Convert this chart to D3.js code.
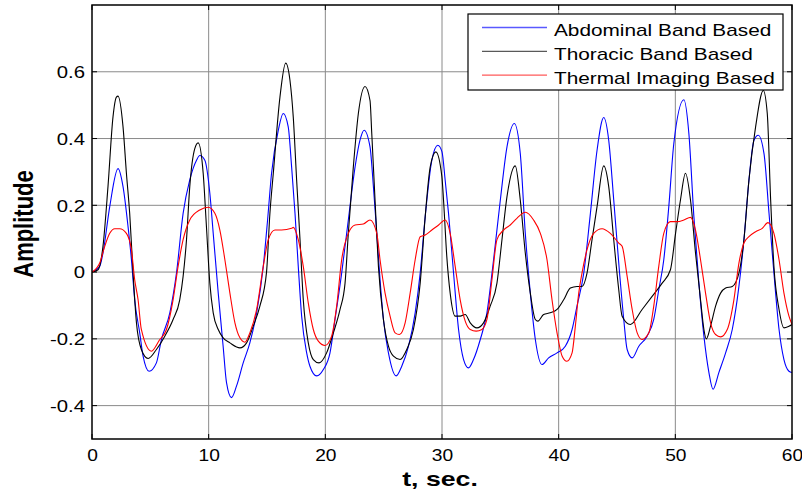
<!DOCTYPE html>
<html>
<head>
<meta charset="utf-8">
<script src="https://cdn.jsdelivr.net/npm/d3@7"></script>
<style>
  body { margin: 0; background: #fff; }
  text { font-family: "Liberation Sans", Arial, sans-serif; }
</style>
</head>
<body>
<div id="chart"></div>
<script>
// series: [t (sec), amplitude]
var abdominal = [[0,0],[0.66,0.017],[0.94,0.057],[1.52,0.196],[2.23,0.31],[2.66,0.256],[3.09,0.136],[3.38,0.037],[3.66,-0.083],[4.09,-0.182],[4.38,-0.252],[4.89,-0.297],[5.52,-0.272],[5.95,-0.202],[6.67,-0.122],[7.24,-0.003],[7.81,0.176],[8.38,0.276],[8.96,0.335],[9.24,0.349],[9.67,0.335],[10.1,0.236],[10.39,0.116],[10.82,-0.063],[11.24,-0.222],[11.53,-0.331],[11.96,-0.376],[12.39,-0.341],[12.96,-0.272],[13.53,-0.212],[14.11,-0.122],[14.68,0.017],[15.05,0.156],[15.39,0.296],[15.97,0.425],[16.39,0.475],[16.82,0.435],[17.11,0.315],[17.4,0.176],[17.68,0.017],[17.97,-0.132],[18.4,-0.242],[18.68,-0.282],[19.26,-0.311],[19.83,-0.292],[20.4,-0.242],[20.83,-0.142],[21.4,-0.003],[21.97,0.156],[22.55,0.315],[22.97,0.395],[23.32,0.425],[23.83,0.375],[24.12,0.256],[24.41,0.116],[24.69,-0.023],[24.98,-0.142],[25.41,-0.242],[26.07,-0.311],[26.55,-0.282],[27.13,-0.222],[27.7,-0.122],[28.13,-0.003],[28.56,0.166],[29.13,0.335],[29.64,0.38],[30.0,0.36],[30.27,0.276],[30.56,0.176],[30.99,-0.003],[31.42,-0.172],[31.85,-0.262],[32.27,-0.287],[32.7,-0.262],[33.28,-0.202],[33.85,-0.122],[34.42,0.037],[35.0,0.216],[35.57,0.375],[36.2,0.445],[36.71,0.355],[37.14,0.116],[37.57,-0.063],[38.0,-0.202],[38.57,-0.277],[39.14,-0.257],[39.86,-0.242],[40.57,-0.222],[41.15,-0.172],[41.57,-0.102],[42.15,-0.003],[42.72,0.176],[43.29,0.365],[43.86,0.463],[44.29,0.395],[44.72,0.216],[45.15,0.027],[45.58,-0.142],[45.87,-0.232],[46.3,-0.257],[46.87,-0.222],[47.58,-0.192],[48.15,-0.142],[48.58,-0.053],[49.01,0.037],[49.44,0.196],[49.87,0.385],[50.73,0.516],[51.16,0.415],[51.59,0.166],[52.02,-0.033],[52.45,-0.192],[52.88,-0.301],[53.23,-0.351],[53.73,-0.301],[54.31,-0.242],[54.88,-0.172],[55.45,-0.043],[55.88,0.097],[56.31,0.276],[56.74,0.395],[57.11,0.41],[57.6,0.355],[58.03,0.176],[58.45,-0.003],[58.89,-0.172],[59.31,-0.262],[59.74,-0.297],[60,-0.301]];

var thoracic = [[0,0],[0.52,0.007],[0.94,0.077],[1.37,0.256],[1.8,0.465],[2.09,0.524],[2.23,0.527],[2.66,0.435],[2.95,0.296],[3.23,0.176],[3.52,-0.003],[3.81,-0.152],[4.23,-0.232],[4.81,-0.259],[5.52,-0.232],[6.24,-0.192],[6.95,-0.142],[7.52,-0.083],[7.81,-0.013],[8.1,0.097],[8.38,0.256],[8.81,0.37],[9.1,0.387],[9.53,0.296],[9.81,0.136],[10.1,-0.033],[10.39,-0.122],[10.82,-0.172],[11.24,-0.197],[11.82,-0.212],[12.68,-0.227],[13.25,-0.212],[13.82,-0.162],[14.39,-0.102],[14.96,0.0],[15.25,0.176],[15.54,0.296],[16.11,0.524],[16.6,0.626],[16.97,0.574],[17.25,0.465],[17.54,0.276],[17.83,0.097],[18.11,-0.083],[18.54,-0.212],[18.97,-0.262],[19.46,-0.272],[20.11,-0.242],[20.69,-0.182],[21.26,-0.112],[21.69,-0.033],[21.97,0.116],[22.4,0.315],[22.83,0.475],[23.4,0.556],[23.83,0.514],[23.98,0.415],[24.26,0.216],[24.55,0.017],[24.98,-0.142],[25.41,-0.222],[25.84,-0.252],[26.41,-0.262],[26.98,-0.232],[27.55,-0.172],[28.13,-0.033],[28.56,0.166],[28.99,0.315],[29.47,0.36],[29.99,0.286],[30.13,0.216],[30.41,0.047],[30.7,-0.063],[31.13,-0.132],[31.56,-0.132],[31.99,-0.127],[32.42,-0.152],[32.99,-0.167],[33.56,-0.152],[34.13,-0.102],[34.71,-0.033],[35.14,0.097],[35.57,0.226],[36.28,0.318],[36.71,0.216],[37.14,0.057],[37.57,-0.063],[38.0,-0.142],[38.22,-0.147],[38.71,-0.127],[39.28,-0.122],[39.86,-0.112],[40.43,-0.083],[41.0,-0.048],[41.57,-0.043],[42.0,-0.043],[42.43,-0.003],[42.86,0.097],[43.29,0.196],[43.86,0.318],[44.29,0.256],[44.72,0.097],[45.15,-0.053],[45.44,-0.132],[46.15,-0.157],[47.15,-0.112],[48.01,-0.073],[48.87,-0.033],[49.58,0.007],[50.02,0.116],[50.44,0.216],[50.87,0.296],[51.3,0.216],[51.73,0.057],[52.16,-0.083],[52.45,-0.172],[52.65,-0.2],[53.02,-0.162],[53.45,-0.102],[53.88,-0.063],[54.31,-0.048],[54.88,-0.043],[55.45,-0.003],[55.88,0.097],[56.31,0.276],[56.88,0.435],[57.54,0.544],[57.88,0.475],[58.17,0.216],[58.45,0.017],[58.89,-0.112],[59.31,-0.167],[59.74,-0.162],[60,-0.157]];

var thermal = [[0,0],[0.66,0.027],[1.09,0.077],[1.52,0.116],[1.95,0.13],[2.37,0.13],[2.95,0.116],[3.38,0.067],[3.66,-0.023],[3.95,-0.083],[4.23,-0.172],[5.09,-0.237],[5.81,-0.202],[6.38,-0.172],[6.95,-0.083],[7.38,0.017],[7.81,0.097],[8.38,0.156],[9.24,0.186],[9.96,0.194],[10.53,0.176],[10.96,0.126],[11.39,0.037],[11.82,-0.063],[12.25,-0.152],[12.68,-0.197],[13.1,-0.21],[13.53,-0.182],[14.11,-0.112],[14.68,0.017],[15.11,0.097],[15.68,0.126],[16.25,0.126],[17.11,0.131],[17.25,0.134],[17.68,0.097],[18.11,0.017],[18.54,-0.093],[18.97,-0.172],[19.4,-0.207],[19.97,-0.22],[20.54,-0.192],[20.97,-0.102],[21.4,0.037],[21.97,0.116],[22.55,0.141],[23.26,0.144],[23.83,0.156],[24.41,0.116],[24.69,0.037],[25.12,-0.063],[25.55,-0.132],[25.98,-0.182],[26.35,-0.187],[26.84,-0.152],[27.27,-0.063],[27.7,0.037],[28.13,0.106],[28.56,0.111],[29.13,0.126],[29.71,0.141],[30.27,0.156],[30.7,0.116],[31.13,0.017],[31.56,-0.083],[31.99,-0.147],[32.42,-0.172],[32.93,-0.177],[33.42,-0.172],[33.85,-0.142],[34.28,-0.023],[34.71,0.097],[35.28,0.126],[35.85,0.141],[36.42,0.161],[37.14,0.179],[37.85,0.156],[38.43,0.116],[39.0,0.037],[39.43,-0.083],[39.86,-0.182],[40.3,-0.252],[40.7,-0.267],[41.15,-0.242],[41.43,-0.162],[41.72,-0.063],[42.0,-0.003],[42.43,0.067],[43.0,0.116],[43.72,0.13],[44.43,0.116],[45.15,0.087],[45.44,0.077],[45.87,-0.013],[46.3,-0.112],[46.73,-0.182],[47.15,-0.202],[47.73,-0.182],[48.15,-0.102],[48.58,0.017],[49.01,0.116],[49.58,0.151],[50.16,0.151],[50.73,0.156],[51.3,0.164],[51.73,0.126],[52.16,0.037],[52.59,-0.063],[53.02,-0.152],[53.45,-0.187],[53.88,-0.194],[54.45,-0.172],[55.02,-0.083],[55.45,0.027],[55.88,0.087],[56.31,0.106],[56.88,0.121],[57.45,0.131],[57.94,0.148],[58.45,0.116],[58.89,0.037],[59.31,-0.063],[59.74,-0.132],[60,-0.157]];

var seriesNames = ["Abdominal Band Based", "Thoracic Band Based", "Thermal Imaging Based"];
var seriesColors = ["#0000ff", "#000000", "#ff0000"];
var xTicks = [0, 10, 20, 30, 40, 50, 60];
var yTicks = [-0.4, -0.2, 0, 0.2, 0.4, 0.6];

var W = 802, H = 493;
var pl = 92, pr = 792, pt = 5, pb = 439;
var stretch = 1.27; // text in the picture is a bit wider than normal

var svg = d3.select('#chart').append('svg')
  .attr('width', W)
  .attr('height', H);

var x = d3.scaleLinear().domain([0, 60]).range([pl, pr]);
var y = d3.scaleLinear().domain([-0.5, 0.8]).range([pb, pt]);

// grid
svg.append('g').selectAll('line')
  .data(xTicks.slice(1, -1))
  .enter().append('line')
  .attr('x1', function(d){ return x(d) }).attr('x2', function(d){ return x(d) })
  .attr('y1', pt).attr('y2', pb)
  .attr('stroke', '#8a8a8a').attr('stroke-width', 1);
svg.append('g').selectAll('line')
  .data(yTicks)
  .enter().append('line')
  .attr('y1', function(d){ return y(d) }).attr('y2', function(d){ return y(d) })
  .attr('x1', pl).attr('x2', pr)
  .attr('stroke', '#8a8a8a').attr('stroke-width', 1);

// inward tick marks on all four sides
var tl = 5;
xTicks.forEach(function(d){
  svg.append('line').attr('x1', x(d)).attr('x2', x(d)).attr('y1', pb).attr('y2', pb - tl).attr('stroke', '#000');
  svg.append('line').attr('x1', x(d)).attr('x2', x(d)).attr('y1', pt).attr('y2', pt + tl).attr('stroke', '#000');
});
yTicks.forEach(function(d){
  svg.append('line').attr('y1', y(d)).attr('y2', y(d)).attr('x1', pl).attr('x2', pl + tl).attr('stroke', '#000');
  svg.append('line').attr('y1', y(d)).attr('y2', y(d)).attr('x1', pr).attr('x2', pr - tl).attr('stroke', '#000');
});

// curves
svg.append('clipPath').attr('id', 'clip')
  .append('rect').attr('x', pl).attr('y', pt).attr('width', pr - pl).attr('height', pb - pt);

var line = d3.line()
  .x(function(d){ return x(d[0]) })
  .y(function(d){ return y(d[1]) })
  .curve(d3.curveMonotoneX);

var allSeries = [abdominal, thoracic, thermal];
svg.append('g').attr('clip-path', 'url(#clip)')
  .selectAll('path')
  .data(allSeries)
  .enter().append('path')
  .attr('d', line)
  .attr('fill', 'none')
  .attr('stroke', function(d, i){ return seriesColors[i] })
  .attr('stroke-width', 1.1);

// frame
svg.append('rect')
  .attr('x', pl).attr('y', pt)
  .attr('width', pr - pl).attr('height', pb - pt)
  .attr('fill', 'none').attr('stroke', '#000').attr('stroke-width', 1.5);

// axes labels through d3 axes
var fmt = function(d){ return d === 0 ? '0' : d.toFixed(1) };
var xAxis = svg.append('g')
  .attr('transform', 'translate(0,' + pb + ')')
  .call(d3.axisBottom(x).tickValues(xTicks).tickSize(0).tickPadding(0).tickFormat(d3.format('d')));
xAxis.select('.domain').remove();
xAxis.selectAll('text')
  .attr('y', 22.5).attr('dy', null)
  .attr('font-size', 16).attr('fill', '#000')
  .attr('transform', 'scale(1.2,1)');

var yAxis = svg.append('g')
  .attr('transform', 'translate(' + pl + ',0)')
  .call(d3.axisLeft(y).tickValues(yTicks).tickSize(0).tickFormat(fmt));
yAxis.select('.domain').remove();
yAxis.selectAll('text')
  .attr('x', -7 / stretch).attr('dy', '0.36em')
  .attr('font-size', 16).attr('fill', '#000')
  .attr('transform', 'scale(' + stretch + ',1)');

// axis titles
svg.append('text')
  .attr('transform', 'translate(' + ((pl + pr) / 2 - 2) + ',486) scale(' + stretch + ',1)')
  .attr('text-anchor', 'middle')
  .attr('font-size', 21).attr('font-weight', 'bold')
  .text('t, sec.');

svg.append('text')
  .attr('transform', 'translate(33,224) rotate(-90) scale(1,' + stretch + ')')
  .attr('text-anchor', 'middle')
  .attr('font-size', 22).attr('font-weight', 'bold')
  .text('Amplitude');

// legend
var lg = svg.append('g');
lg.append('rect')
  .attr('x', 468).attr('y', 14).attr('width', 315).attr('height', 76)
  .attr('fill', '#fff').attr('stroke', '#000').attr('stroke-width', 1.2);
seriesNames.forEach(function(name, i){
  var ly = 27.5 + i * 23.8;
  lg.append('path')
    .attr('d', 'M482,' + ly + 'H547')
    .attr('fill', 'none')
    .attr('stroke', seriesColors[i])
    .attr('stroke-opacity', 0.65)
    .attr('stroke-width', 1.3);
  lg.append('text')
    .attr('transform', 'translate(554,' + (ly + 8.5) + ') scale(1.3,1)')
    .attr('font-size', 16)
    .text(name);
});
</script>
</body>
</html>
